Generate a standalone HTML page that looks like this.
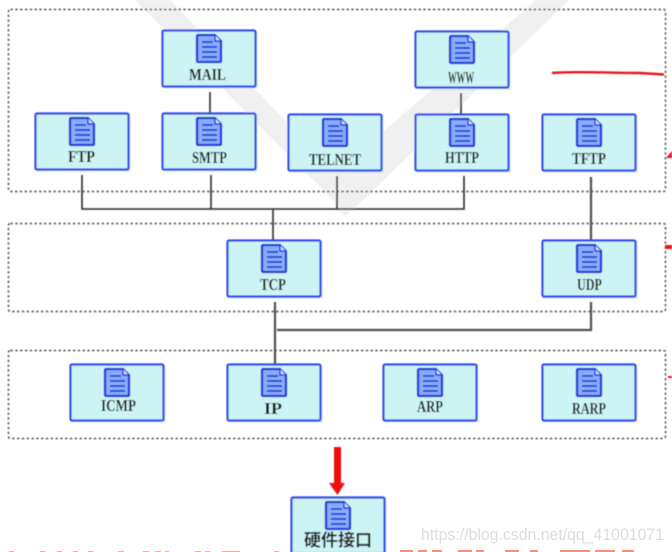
<!DOCTYPE html>
<html lang="zh">
<head>
<meta charset="utf-8">
<title>TCP/IP 协议族</title>
<style>
html,body{margin:0;padding:0;background:#fff;width:672px;height:552px;overflow:hidden}
svg{display:block}
.lbl{font-family:"Liberation Serif","Noto Serif CJK SC",serif;font-size:17px;font-weight:bold;fill:#161616}
</style>
</head>
<body>
<svg width="672" height="552" viewBox="0 0 672 552" xmlns="http://www.w3.org/2000/svg">
<defs>
<filter id="b" x="-2%" y="-2%" width="104%" height="104%"><feGaussianBlur stdDeviation="0.4"/></filter>
<g id="n">
  <rect x="2.500" y="2.500" width="94" height="57" fill="#bfe0fb" opacity=".75"/>
  <rect x="1.500" y="1.500" width="93" height="56" rx="1.500" fill="#cdf4f4" stroke="#3348ea" stroke-width="2.200"/>
  <path d="M37 6h17l6 6v20a1 1 0 0 1-1 1H37a1 1 0 0 1-1-1V7a1 1 0 0 1 1-1z" fill="#86aefa" stroke="#2233dc" stroke-width="2.300"/>
  <path d="M54 6v6h6" fill="#cfe0fb" stroke="#2233dc" stroke-width="1.400"/>
  <path d="M41 13h11M41 18h15M41 23h15M41 28h15" stroke="#2233dc" stroke-width="1.700" fill="none"/>
</g>
</defs>
<g filter="url(#b)">
<polygon points="135,0 170,0 335,173 536,0 569,0 356,207 345,216 333,200" fill="#f0f0f0"/>

<g fill="none" stroke="#666" stroke-width="1.700" stroke-dasharray="2.400 2.400">
  <rect x="8.500" y="9.500" width="657" height="182" rx="2"/>
  <rect x="8.500" y="223.500" width="657" height="88" rx="2"/>
  <rect x="8.500" y="350.500" width="657" height="88" rx="2"/>
</g>

<g fill="none" stroke="#404040" stroke-width="1.800">
  <path d="M210 92V113"/>
  <path d="M461 93V114"/>
  <path d="M82 175V209H464V176"/>
  <path d="M211 175V209"/>
  <path d="M337 176V209"/>
  <path d="M273 209V240"/>
</g>
<g fill="none" stroke="#505050" stroke-width="2.200">
  <path d="M591 177V240"/>
  <path d="M275 302V364"/>
  <path d="M277 330H591V302"/>
</g>

<use href="#n" x="161" y="29"/>
<use href="#n" x="414" y="30"/>
<use href="#n" x="34" y="112"/>
<use href="#n" x="161" y="112"/>
<use href="#n" x="287" y="113"/>
<use href="#n" x="414" y="113"/>
<use href="#n" x="541" y="113"/>
<use href="#n" x="226" y="239"/>
<use href="#n" x="541" y="239"/>
<use href="#n" x="69" y="363"/>
<use href="#n" x="226" y="363"/>
<use href="#n" x="382" y="363"/>
<use href="#n" x="541" y="363"/>
<use href="#n" x="290" y="496"/>

<text class="lbl" x="189" y="80" textLength="37" lengthAdjust="spacingAndGlyphs">MAIL</text>
<text class="lbl" x="448" y="83" textLength="26" lengthAdjust="spacingAndGlyphs">WWW</text>
<text class="lbl" x="68" y="162" textLength="27" lengthAdjust="spacingAndGlyphs">FTP</text>
<text class="lbl" x="192" y="163" textLength="35" lengthAdjust="spacingAndGlyphs">SMTP</text>
<text class="lbl" x="309" y="165" textLength="52" lengthAdjust="spacingAndGlyphs">TELNET</text>
<text class="lbl" x="445" y="163" textLength="34" lengthAdjust="spacingAndGlyphs">HTTP</text>
<text class="lbl" x="572" y="164" textLength="34" lengthAdjust="spacingAndGlyphs">TFTP</text>
<text class="lbl" x="260" y="290" textLength="26" lengthAdjust="spacingAndGlyphs">TCP</text>
<text class="lbl" x="577" y="290" textLength="25" lengthAdjust="spacingAndGlyphs">UDP</text>
<text class="lbl" x="101" y="411" textLength="35" lengthAdjust="spacingAndGlyphs">ICMP</text>
<text class="lbl" x="264" y="414" textLength="18" lengthAdjust="spacingAndGlyphs">IP</text>
<text class="lbl" x="417" y="412" textLength="26" lengthAdjust="spacingAndGlyphs">ARP</text>
<text class="lbl" x="572" y="414" textLength="34" lengthAdjust="spacingAndGlyphs">RARP</text>
<text x="338" y="546" font-family="'Liberation Sans','Noto Sans CJK SC',sans-serif" font-size="17" font-weight="700" fill="#222" text-anchor="middle">硬件接口</text>

<path d="M552 73C580 71 610 73 640 73L664 74.500" fill="none" stroke="#e8141c" stroke-width="2.400"/>
<path d="M666 158L672 151V158Z" fill="#e8141c"/>
<path d="M665 245H672V249H665Z" fill="#e8141c"/>
<path d="M668 376H672V378H668Z" fill="#e8141c"/>
<path d="M334 447H341V483H345L337.500 495L329 483H334Z" fill="#f20a0f"/>
</g>
<g fill="#f8a8a8">
  <rect x="9" y="551" width="5" height="1"/><rect x="40" y="551" width="5" height="1"/>
  <rect x="57" y="551" width="5" height="1"/><rect x="73" y="551" width="5" height="1"/>
  <rect x="88" y="551" width="5" height="1"/><rect x="118" y="551" width="6" height="1"/>
  <rect x="143" y="551" width="6" height="1"/><rect x="155" y="551" width="6" height="1"/>
  <rect x="165" y="551" width="4" height="1"/><rect x="195" y="551" width="6" height="1"/>
  <rect x="205" y="551" width="5" height="1"/><rect x="222" y="551" width="18" height="1"/>
  <rect x="274" y="551" width="5" height="1"/>
</g>
<g fill="#f49080">
  <rect x="400" y="550" width="13" height="2"/><rect x="418" y="550" width="9" height="2"/>
  <rect x="432" y="550" width="10" height="2"/><rect x="458" y="550" width="14" height="2"/>
  <rect x="476" y="550" width="8" height="2"/><rect x="505" y="550" width="14" height="2"/>
  <rect x="530" y="550" width="8" height="2"/><rect x="560" y="550" width="30" height="2"/>
  <rect x="595" y="550" width="20" height="2"/><rect x="622" y="550" width="12" height="2"/>
</g>
<text x="421" y="540" font-family="'Liberation Sans',sans-serif" font-size="16.500" fill="#dcdcdc" textLength="243" lengthAdjust="spacingAndGlyphs">https://blog.csdn.net/qq_41001071</text>
</svg>
</body>
</html>
